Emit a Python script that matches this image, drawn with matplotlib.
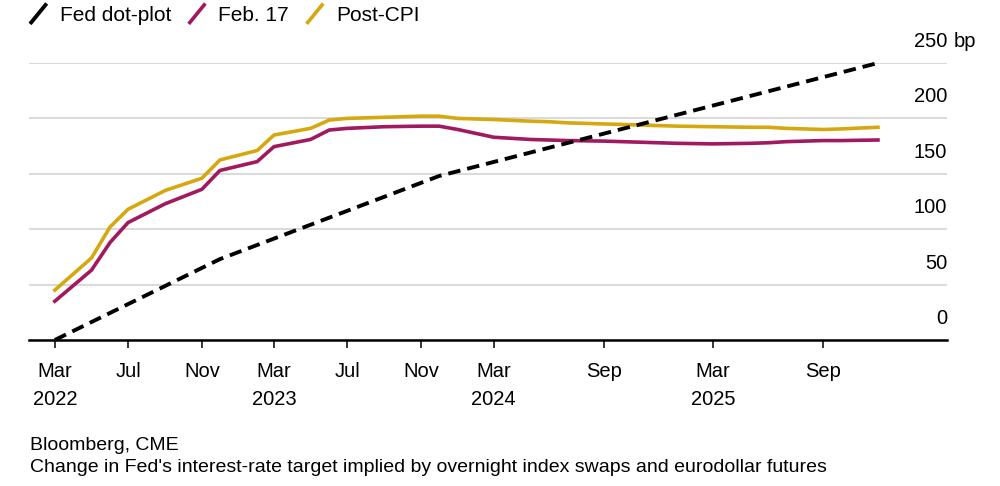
import matplotlib

matplotlib.use("Agg")
import matplotlib.pyplot as plt
import pandas as pd
from matplotlib.legend_handler import HandlerLine2D
from matplotlib.lines import Line2D

plt.rcParams["font.family"] = ["Liberation Sans", "DejaVu Sans"]

# FOMC meeting months (plotted mid-month), change in target in bp
meeting_months = [
    "2022-03", "2022-05", "2022-06", "2022-07", "2022-09", "2022-11", "2022-12",
    "2023-02", "2023-03", "2023-05", "2023-06", "2023-07", "2023-09", "2023-11", "2023-12",
    "2024-01", "2024-03", "2024-05", "2024-06", "2024-07", "2024-09", "2024-11", "2024-12",
    "2025-01", "2025-03", "2025-05", "2025-06", "2025-07", "2025-09", "2025-10", "2025-12",
]
feb17 = [
    35, 63, 88, 106, 123, 136, 153,
    161, 174.5, 181, 189.5, 191, 192.5, 193, 193,
    190, 183, 181, 180.5, 180, 179.5, 178.5, 178,
    177.5, 177, 177.5, 178, 179, 180, 180, 180.5,
]
post_cpi = [
    45, 74, 102, 118, 135, 146, 162.5,
    171, 185, 191, 198.5, 200, 201, 202, 202,
    200, 199, 197.5, 197, 196, 195, 194, 193.5,
    193, 192.5, 192, 192, 191, 190, 190.5, 192,
]

dot_months = ["2022-03", "2022-12", "2023-12", "2024-12", "2025-12"]
dot_plot = [0, 73, 148, 199, 250]

tick_months = ["2022-03", "2022-07", "2022-11", "2023-03", "2023-07", "2023-11",
               "2024-03", "2024-09", "2025-03", "2025-09"]
tick_labels = ["Mar\n2022", "Jul", "Nov", "Mar\n2023", "Jul", "Nov",
               "Mar\n2024", "Sep", "Mar\n2025", "Sep"]
y_ticks = [0, 50, 100, 150, 200, 250]

MAGENTA = "#A1195E"
GOLD = "#D6A810"


def mid_month(months):
    return pd.to_datetime([m + "-15" for m in months])


class DiagonalHandler(HandlerLine2D):
    # short slanted stroke instead of the usual horizontal legend line
    def create_artists(self, legend, orig_handle, xdescent, ydescent, width, height,
                       fontsize, trans):
        x0, x1 = -xdescent, -xdescent + width
        y0, y1 = -ydescent - 0.2 * height, -ydescent + 1.2 * height
        line = Line2D([x0, x1], [y0, y1])
        self.update_prop(line, orig_handle, legend)
        line.set_linestyle("-")
        line.set_solid_capstyle("butt")
        line.set_transform(trans)
        return [line]


fig = plt.figure(figsize=(10, 4.86), dpi=100)
ax = fig.add_axes([0.029, 1 - 340 / 486, 0.918, (340 - 63) / 486])

ax.plot(mid_month(meeting_months), feb17, color=MAGENTA, lw=2.6,
        solid_joinstyle="round", label="Feb. 17", zorder=3)
ax.plot(mid_month(meeting_months), post_cpi, color=GOLD, lw=2.6,
        solid_joinstyle="round", label="Post-CPI", zorder=3)
ax.plot(mid_month(dot_months), dot_plot, color="black", lw=2.8,
        linestyle=(0, (3.2, 1.8)), dash_capstyle="butt", label="Fed dot-plot",
        zorder=4, clip_on=False)

ax.set_ylim(0, 250)
ax.set_xlim(pd.Timestamp("2022-01-31"), pd.Timestamp("2026-04-09"))

for spine in ["top", "right", "left"]:
    ax.spines[spine].set_visible(False)
ax.spines["bottom"].set_linewidth(1.8)
ax.spines["bottom"].set_zorder(5)

ax.set_yticks(y_ticks)
ax.yaxis.grid(True, color="#d0d0d0", lw=1.1)
ax.set_axisbelow(True)
ax.tick_params(axis="y", length=0, labelleft=False)
for v in y_ticks:
    ax.annotate(str(v), xy=(1, v), xycoords=("axes fraction", "data"),
                xytext=(0, 15.5), textcoords="offset points",
                ha="right", va="center", fontsize=14.5)
ax.annotate("bp", xy=(1, y_ticks[-1]), xycoords=("axes fraction", "data"),
            xytext=(5, 15.5), textcoords="offset points",
            ha="left", va="center", fontsize=14.5, annotation_clip=False)

ax.set_xticks(mid_month(tick_months))
ax.set_xticklabels(tick_labels, fontsize=14.5, linespacing=1.6)
ax.tick_params(axis="x", direction="out", length=6, width=1.1, pad=10)

handles, labels = ax.get_legend_handles_labels()
order = [2, 0, 1]
fig.legend([handles[i] for i in order], [labels[i] for i in order],
           loc="upper left", bbox_to_anchor=(0.03, 1 - 6 / 486), ncol=3,
           frameon=False, fontsize=15, borderpad=0, borderaxespad=0,
           handlelength=0.8, handleheight=0.7, handletextpad=0.62,
           columnspacing=0.85,
           handler_map={Line2D: DiagonalHandler()})

fig.text(0.03, 1 - 445 / 486, "Bloomberg, CME", fontsize=14, va="center")
fig.text(0.03, 1 - 467 / 486,
         "Change in Fed's interest-rate target implied by overnight index swaps "
         "and eurodollar futures", fontsize=14, va="center")

fig.savefig("out.png", dpi=100)
